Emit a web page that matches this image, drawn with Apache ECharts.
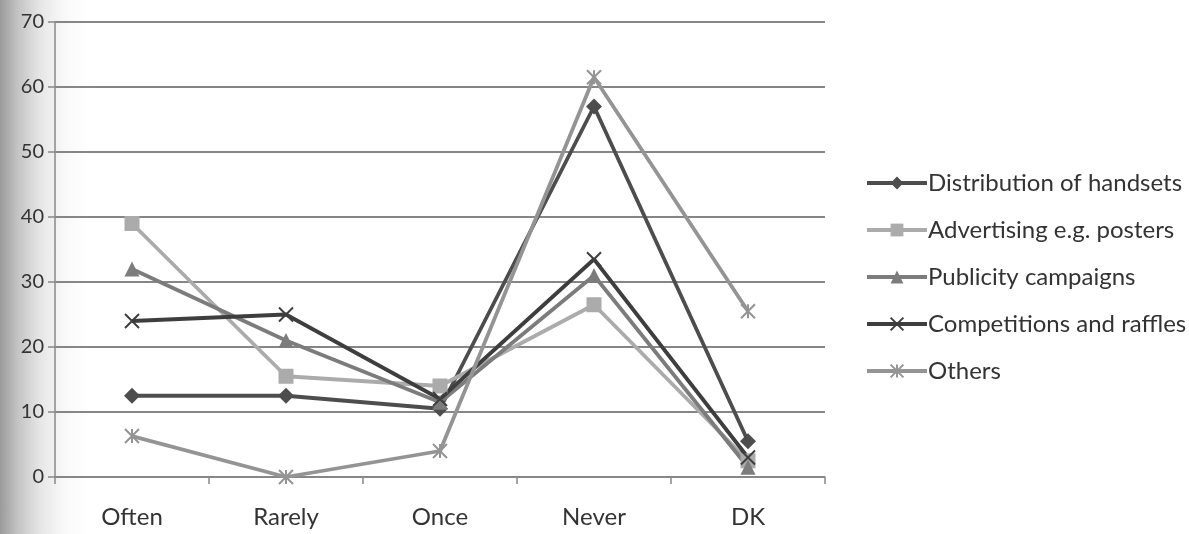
<!DOCTYPE html>
<html>
<head>
<meta charset="utf-8">
<script src="https://cdn.jsdelivr.net/npm/echarts@6/dist/echarts.min.js"></script>
<style>
  html, body { margin: 0; padding: 0; }
  body {
    width: 1189px; height: 534px; overflow: hidden;
    background: linear-gradient(to right, #9a9a9a 0px, #c4c4c4 18px, #e6e6e6 40px, #f9f9f9 65px, #ffffff 90px);
  }
  #chart { width: 1189px; height: 534px; }
</style>
</head>
<body>
<div id="chart"></div>
<script>
// Response categories along the x axis
const categories = ['Often', 'Rarely', 'Once', 'Never', 'DK'];

// Percentage of respondents per promotion type
const distributionOfHandsets = [12.5, 12.5, 10.5, 57, 5.5];
const advertisingPosters     = [39, 15.5, 14, 26.5, 2.5];
const publicityCampaigns     = [32, 21, 11.5, 31, 1.5];
const competitionsRaffles    = [24, 25, 12, 33.5, 3];
const others                 = [6.3, 0, 4, 61.5, 25.5];

// Y axis range
const yTicks = { min: 0, max: 70, interval: 10 };

const crossPath = 'path://M0,0L10,10M10,0L0,10';
const starPath = 'path://M5,0L5,10M0,0L10,10M10,0L0,10';

function lineSeries(name, data, color, symbol, size, strokeOnly) {
  return {
    name: name,
    type: 'line',
    data: data,
    symbol: symbol,
    symbolSize: size,
    showSymbol: true,
    lineStyle: { color: color, width: 3.8 },
    itemStyle: strokeOnly
      ? { color: 'none', borderColor: color, borderWidth: 2 }
      : { color: color, borderColor: color, borderWidth: 0 },
    emphasis: { disabled: true }
  };
}

const chart = echarts.init(document.getElementById('chart'), null, { renderer: 'canvas' });
chart.setOption({
  animation: false,
  backgroundColor: 'transparent',
  textStyle: { fontFamily: 'Lato, "Open Sans", sans-serif' },
  grid: { left: 55, right: 364, top: 22, bottom: 57, containLabel: false },
  legend: {
    orient: 'vertical',
    left: 860,
    top: 166,
    itemWidth: 60,
    itemHeight: 16,
    itemGap: 23,
    lineStyle: { width: 4 },
    textStyle: { fontSize: 24, color: '#333', fontFamily: 'Lato, sans-serif', padding: [0, 0, 0, -4] },
    data: ['Distribution of handsets', 'Advertising e.g. posters', 'Publicity campaigns', 'Competitions and raffles', 'Others']
  },
  xAxis: {
    type: 'category',
    data: categories,
    boundaryGap: true,
    axisLine: { lineStyle: { color: '#888', width: 1.5 } },
    axisTick: { show: true, length: 7, lineStyle: { color: '#888', width: 1.5 } },
    axisLabel: { fontSize: 24, color: '#333', margin: 28, fontFamily: 'Lato, sans-serif' }
  },
  yAxis: {
    type: 'value',
    min: yTicks.min,
    max: yTicks.max,
    interval: yTicks.interval,
    axisLine: { show: true, lineStyle: { color: '#888', width: 1.5 } },
    axisTick: { show: true, length: 7, lineStyle: { color: '#888', width: 1.5 } },
    splitLine: { lineStyle: { color: '#868686', width: 1.8 } },
    axisLabel: { fontSize: 20, color: '#333', margin: 11, fontFamily: 'Lato, sans-serif' }
  },
  series: [
    lineSeries('Distribution of handsets', distributionOfHandsets, '#4d4d4d', 'diamond', 16, false),
    lineSeries('Advertising e.g. posters', advertisingPosters, '#ababab', 'rect', 15, false),
    lineSeries('Publicity campaigns', publicityCampaigns, '#7c7c7c', 'triangle', 15, false),
    lineSeries('Competitions and raffles', competitionsRaffles, '#3e3e3e', crossPath, 14, true),
    lineSeries('Others', others, '#949494', starPath, 14, true)
  ]
});
</script>
</body>
</html>
